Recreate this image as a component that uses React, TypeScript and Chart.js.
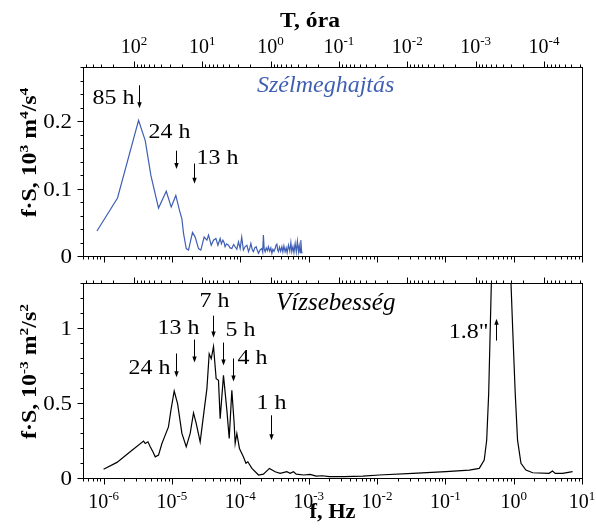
import React, { useEffect, useRef } from 'react';
import { Chart, registerables } from 'chart.js';

Chart.register(...registerables);

// ---------- data ----------
const F_MIN = 5e-7;
const F_MAX = 10;
const F_DECADES = [-6, -5, -4, -3, -2, -1, 0, 1];
const T_DECADES = [2, 1, 0, -1, -2, -3, -4];

const WIND_Y_MAX = 0.28;
const WIND_Y_STEP = 0.02;
const WIND_Y_TICKS = [0, 0.1, 0.2];
const WIND_Y_LABELS = ['0', '0.1', '0.2'];

const WATER_Y_MAX = 1.3;
const WATER_Y_STEP = 0.1;
const WATER_Y_TICKS = [0, 0.5, 1];
const WATER_Y_LABELS = ['0', '0.5', '1'];

const WIND_FREQ = [
  8.0e-7, 1.6e-6, 3.25e-6, 4.07e-6, 4.93e-6, 6.37e-6, 8.26e-6, 9.77e-6, 1.14e-5, 1.29e-5,
  1.4e-5, 1.48e-5, 1.62e-5, 1.75e-5, 2.0e-5, 2.19e-5, 2.45e-5, 2.65e-5, 2.96e-5, 3.25e-5,
  3.43e-5, 3.76e-5, 4.06e-5, 4.4e-5, 4.71e-5, 5.08e-5, 5.3e-5, 5.57e-5, 5.8e-5, 6.0e-5,
  6.3e-5, 6.73e-5, 7.1e-5, 7.53e-5, 8.0e-5, 8.41e-5, 8.9e-5, 9.42e-5, 9.97e-5, 1.05e-4,
  1.11e-4, 1.18e-4, 1.25e-4, 1.32e-4, 1.38e-4, 1.43e-4, 1.5e-4, 1.56e-4, 1.63e-4, 1.71e-4,
  1.78e-4, 1.85e-4, 1.95e-4, 2.07e-4, 2.13e-4, 2.18e-4, 2.24e-4, 2.31e-4, 2.4e-4, 2.5e-4,
  2.58e-4, 2.7e-4, 2.8e-4, 2.9e-4, 3.0e-4, 3.12e-4, 3.24e-4, 3.34e-4, 3.43e-4, 3.52e-4,
  3.62e-4, 3.75e-4, 3.9e-4, 4.06e-4, 4.2e-4, 4.35e-4, 4.53e-4, 4.7e-4, 4.85e-4, 5.07e-4,
  5.3e-4, 5.5e-4, 5.67e-4, 5.9e-4, 6.1e-4, 6.35e-4, 6.6e-4, 6.85e-4, 7.1e-4, 7.3e-4,
  7.5e-4, 7.69e-4, 7.9e-4, 8.1e-4,
];
const WIND_FS = [
  0.037, 0.086, 0.201, 0.171, 0.119, 0.071, 0.096, 0.0725, 0.0897, 0.0676,
  0.055, 0.033, 0.011, 0.0088, 0.035, 0.028, 0.011, 0.0088, 0.028, 0.0235,
  0.031, 0.016, 0.0235, 0.026, 0.016, 0.026, 0.018, 0.0235, 0.02, 0.0137,
  0.018, 0.016, 0.012, 0.011, 0.017, 0.0137, 0.01, 0.021, 0.011, 0.028,
  0.0088, 0.014, 0.016, 0.0063, 0.012, 0.0187, 0.009, 0.0063, 0.012, 0.0137,
  0.008, 0.004, 0.009, 0.011, 0.006, 0.031, 0.01, 0.0063, 0.012, 0.008,
  0.0137, 0.007, 0.012, 0.004, 0.01, 0.007, 0.011, 0.016, 0.0187, 0.009,
  0.0063, 0.013, 0.007, 0.0137, 0.006, 0.015, 0.0063, 0.012, 0.005, 0.016,
  0.007, 0.02, 0.0063, 0.014, 0.005, 0.0187, 0.006, 0.022, 0.0063, 0.015,
  0.005, 0.0235, 0.006, 0.004,
];

const WATER_FREQ = [
  1.0e-6, 1.57e-6, 2.45e-6, 3.85e-6, 4.07e-6, 4.46e-6, 4.82e-6, 5.27e-6, 5.7e-6, 6.37e-6,
  7.14e-6, 7.98e-6, 8.9e-6, 9.66e-6, 1.08e-5, 1.21e-5, 1.4e-5, 1.62e-5, 1.85e-5, 2.07e-5,
  2.27e-5, 2.59e-5, 2.96e-5, 3.25e-5, 3.51e-5, 3.76e-5, 4.06e-5, 4.44e-5, 4.8e-5, 5.08e-5,
  5.68e-5, 6.37e-5, 6.89e-5, 7.53e-5, 8.14e-5, 8.42e-5, 8.91e-5, 9.73e-5, 1.11e-4, 1.21e-4,
  1.29e-4, 1.48e-4, 1.85e-4, 2.18e-4, 2.67e-4, 3.24e-4, 3.83e-4, 4.8e-4, 5.37e-4, 6.0e-4,
  6.6e-4, 8.5e-4, 1.05e-3, 1.29e-3, 1.6e-3, 2.0e-3, 2.52e-3, 3.3e-3, 4.5e-3, 6.2e-3,
  1.08e-2, 3.33e-2, 0.102, 0.224, 0.314, 0.371, 0.403, 0.431, 0.455, 0.471,
  0.52, 0.68, 0.85, 0.914, 0.966, 1.055, 1.14, 1.28, 1.51, 1.9,
  3.3, 3.7, 4.06, 5.2, 7.28,
];
const WATER_FS = [
  0.058, 0.104, 0.175, 0.246, 0.23, 0.241, 0.208, 0.175, 0.141, 0.153,
  0.23, 0.286, 0.341, 0.451, 0.58, 0.496, 0.297, 0.208, 0.297, 0.434,
  0.363, 0.241, 0.451, 0.596, 0.828, 0.795, 0.876, 0.662, 0.651, 0.396,
  0.684, 0.451, 0.264, 0.584, 0.363, 0.23, 0.297, 0.197, 0.141, 0.098,
  0.108, 0.064, 0.02, 0.026, 0.064, 0.042, 0.031, 0.042, 0.031, 0.042,
  0.026, 0.02, 0.024, 0.012, 0.015, 0.009, 0.01, 0.009, 0.011, 0.013,
  0.02, 0.031, 0.042, 0.053, 0.064, 0.12, 0.252, 0.562, 1.005, 1.29,
  2.4, 3.4, 2.0, 1.3, 1.005, 0.562, 0.252, 0.098, 0.053, 0.035,
  0.031, 0.046, 0.031, 0.031, 0.042,
];

const WIND_MARK_LABELS = ['85 h', '24 h', '13 h'];
const WIND_MARK_FREQ = [3.27e-6, 1.157e-5, 2.137e-5];
const WATER_MARK_LABELS = ['24 h', '13 h', '7 h', '5 h', '4 h', '1 h', '1.8"'];
const WATER_MARK_FREQ = [1.157e-5, 2.137e-5, 3.97e-5, 5.56e-5, 7.8e-5, 2.78e-4, 0.556];

// ---------- styling / placement ----------
const SERIF = '"Liberation Serif", "Times New Roman", Times, serif';
const BLUE = '#3f5fb4';

type Seg = [string, boolean];
type Align = 'left' | 'right' | 'center';
type Mark = { yFrom: number; yTo: number; textY: number; align: Align; dx: number };

const WIND_MARK_PLACE: Mark[] = [
  { yFrom: 0.253, yTo: 0.219, textY: 0.225, align: 'right', dx: -5 },
  { yFrom: 0.156, yTo: 0.129, textY: 0.175, align: 'left', dx: -28 },
  { yFrom: 0.137, yTo: 0.107, textY: 0.136, align: 'left', dx: 2 },
];
const WATER_MARK_PLACE: Mark[] = [
  { yFrom: 0.83, yTo: 0.671, textY: 0.695, align: 'right', dx: -6 },
  { yFrom: 0.923, yTo: 0.77, textY: 0.961, align: 'center', dx: -16 },
  { yFrom: 1.082, yTo: 0.936, textY: 1.137, align: 'center', dx: 1 },
  { yFrom: 0.903, yTo: 0.75, textY: 0.95, align: 'left', dx: 2 },
  { yFrom: 0.797, yTo: 0.644, textY: 0.762, align: 'left', dx: 4 },
  { yFrom: 0.418, yTo: 0.252, textY: 0.463, align: 'center', dx: 0 },
  { yFrom: 0.916, yTo: 1.062, textY: 0.935, align: 'right', dx: -8 },
];

function drawRich(
  ctx: CanvasRenderingContext2D, segs: Seg[], x: number, y: number,
  size: number, weight: string, align: Align, sx = 1,
) {
  const supSize = Math.round(size * 0.66);
  const font = (s: number) => `${weight} ${s}px ${SERIF}`;
  let total = 0;
  const widths = segs.map(([t, sup]) => {
    ctx.font = font(sup ? supSize : size);
    const w = ctx.measureText(t).width;
    total += w;
    return w;
  });
  ctx.save();
  ctx.translate(x, y);
  ctx.scale(sx, 1);
  let cx = align === 'center' ? -total / 2 : align === 'right' ? -total : 0;
  ctx.textAlign = 'left';
  ctx.textBaseline = 'alphabetic';
  segs.forEach(([t, sup], i) => {
    ctx.font = font(sup ? supSize : size);
    ctx.fillText(t, cx, sup ? -size * 0.42 : 0);
    cx += widths[i];
  });
  ctx.restore();
}

function line(ctx: CanvasRenderingContext2D, x1: number, y1: number, x2: number, y2: number) {
  ctx.beginPath();
  ctx.moveTo(x1, y1);
  ctx.lineTo(x2, y2);
  ctx.stroke();
}

type PanelCfg = {
  yMax: number;
  yStep: number;
  yTicks: number[];
  yLabels: string[];
  topLabels: boolean;
  bottomLabels: boolean;
  yTitle: Seg[];
  title: string;
  titleColor: string;
  titleSize: number;
  titleDx: number;
  titleDy: number;
  markLabels: string[];
  markFreq: number[];
  markPlace: Mark[];
};

function makePlugin(cfg: PanelCfg) {
  return {
    id: 'panelDecor',
    afterDraw(chart: any) {
      const ctx: CanvasRenderingContext2D = chart.ctx;
      const xs = chart.scales.x;
      const ys = chart.scales.y;
      const { left, right, top, bottom } = chart.chartArea;
      ctx.save();
      ctx.strokeStyle = '#000';
      ctx.fillStyle = '#000';
      ctx.lineWidth = 1;
      const L = Math.round(left) + 0.5;
      const R = Math.round(right) + 0.5;
      const T = Math.round(top) + 0.5;
      const B = Math.round(bottom) + 0.5;
      ctx.strokeRect(L, T, R - L, B - T);

      // bottom f ticks
      for (let e = -7; e <= 1; e++) {
        for (let m = 1; m <= 9; m++) {
          const f = m * Math.pow(10, e);
          if (f < F_MIN * 0.999 || f > F_MAX * 1.001) continue;
          const px = Math.round(xs.getPixelForValue(f)) + 0.5;
          line(ctx, px, B, px, B + (m === 1 ? 6 : 3));
        }
      }
      // top T ticks (hours)
      for (let e = -5; e <= 3; e++) {
        for (let m = 1; m <= 9; m++) {
          const tH = m * Math.pow(10, e);
          const f = 1 / (3600 * tH);
          if (f < F_MIN * 0.999 || f > F_MAX * 1.001) continue;
          const px = Math.round(xs.getPixelForValue(f)) + 0.5;
          line(ctx, px, T, px, T - (m === 1 ? 6 : 3));
        }
      }
      // y ticks
      const n = Math.round(cfg.yMax / cfg.yStep);
      for (let i = 0; i <= n; i++) {
        const v = i * cfg.yStep;
        const major = cfg.yTicks.some((t) => Math.abs(t - v) < 1e-9);
        const py = Math.round(ys.getPixelForValue(v)) + 0.5;
        line(ctx, L - (major ? 6 : 3), py, L, py);
      }
      // y labels
      cfg.yTicks.forEach((v, i) => {
        drawRich(ctx, [[cfg.yLabels[i], false]], left - 11, ys.getPixelForValue(v) + 7, 20, 'normal', 'right', 1.15);
      });

      if (cfg.topLabels) {
        T_DECADES.forEach((e) => {
          const f = 1 / (3600 * Math.pow(10, e));
          const px = xs.getPixelForValue(f);
          drawRich(ctx, [['10', false], [String(e), true]], px, top - 14, 20, 'normal', 'center');
        });
        drawRich(ctx, [['T, óra', false]], 310, 27, 20, 'bold', 'center', 1.18);
      }
      if (cfg.bottomLabels) {
        F_DECADES.forEach((e) => {
          const px = xs.getPixelForValue(Math.pow(10, e));
          drawRich(ctx, [['10', false], [String(e), true]], px, bottom + 30, 20, 'normal', 'center');
        });
        drawRich(ctx, [['f, Hz', false]], (left + right) / 2, bottom + 40, 20, 'bold', 'center', 1.12);
      }

      // y title (rotated)
      ctx.save();
      ctx.translate(36, (top + bottom) / 2 - 9);
      ctx.rotate(-Math.PI / 2);
      drawRich(ctx, cfg.yTitle, 0, 0, 20, 'bold', 'center', 1.19);
      ctx.restore();

      // panel title
      ctx.fillStyle = cfg.titleColor;
      ctx.font = `italic ${cfg.titleSize}px ${SERIF}`;
      ctx.textAlign = 'left';
      ctx.textBaseline = 'alphabetic';
      ctx.fillText(cfg.title, left + cfg.titleDx, top + cfg.titleDy);

      // period marks
      ctx.fillStyle = '#000';
      ctx.strokeStyle = '#000';
      cfg.markLabels.forEach((lab, i) => {
        const p = cfg.markPlace[i];
        const ax = Math.round(xs.getPixelForValue(cfg.markFreq[i])) + 0.5;
        const y1 = ys.getPixelForValue(p.yFrom);
        const y2 = ys.getPixelForValue(p.yTo);
        const dir = y2 > y1 ? 1 : -1;
        line(ctx, ax, y1, ax, y2 - dir * 4);
        ctx.beginPath();
        ctx.moveTo(ax, y2);
        ctx.lineTo(ax - 2.2, y2 - dir * 6);
        ctx.lineTo(ax + 2.2, y2 - dir * 6);
        ctx.closePath();
        ctx.fill();
        drawRich(ctx, [[lab, false]], ax + p.dx, ys.getPixelForValue(p.textY), 21, 'normal', p.align, 1.14);
      });
      ctx.restore();
    },
  };
}

function buildChart(
  canvas: HTMLCanvasElement, freq: number[], vals: number[], color: string,
  yMax: number, padding: any, cfg: PanelCfg,
) {
  return new Chart(canvas, {
    type: 'line',
    data: {
      datasets: [
        {
          data: freq.map((f, i) => ({ x: f, y: vals[i] })),
          borderColor: color,
          borderWidth: 1.2,
          pointRadius: 0,
          tension: 0,
          fill: false,
        },
      ],
    },
    options: {
      responsive: false,
      animation: false,
      devicePixelRatio: 1,
      layout: { padding },
      scales: {
        x: { type: 'logarithmic', min: F_MIN, max: F_MAX, display: false },
        y: { type: 'linear', min: 0, max: yMax, display: false },
      },
      plugins: { legend: { display: false }, tooltip: { enabled: false } },
    } as any,
    plugins: [makePlugin(cfg)],
  });
}

export default function App() {
  const topRef = useRef<HTMLCanvasElement>(null);
  const botRef = useRef<HTMLCanvasElement>(null);

  useEffect(() => {
    const c1 = buildChart(topRef.current!, WIND_FREQ, WIND_FS, BLUE, WIND_Y_MAX, { left: 83, right: 14, top: 67, bottom: 12 }, {
      yMax: WIND_Y_MAX,
      yStep: WIND_Y_STEP,
      yTicks: WIND_Y_TICKS,
      yLabels: WIND_Y_LABELS,
      topLabels: true,
      bottomLabels: false,
      yTitle: [['f·S, 10', false], ['3', true], [' m', false], ['4', true], ['/s', false], ['4', true]],
      title: 'Szélmeghajtás',
      titleColor: BLUE,
      titleSize: 24,
      titleDx: 174,
      titleDy: 25,
      markLabels: WIND_MARK_LABELS,
      markFreq: WIND_MARK_FREQ,
      markPlace: WIND_MARK_PLACE,
    });
    const c2 = buildChart(botRef.current!, WATER_FREQ, WATER_FS, '#000', WATER_Y_MAX, { left: 83, right: 14, top: 15, bottom: 51 }, {
      yMax: WATER_Y_MAX,
      yStep: WATER_Y_STEP,
      yTicks: WATER_Y_TICKS,
      yLabels: WATER_Y_LABELS,
      topLabels: false,
      bottomLabels: true,
      yTitle: [['f·S, 10', false], ['-3', true], [' m', false], ['2', true], ['/s', false], ['2', true]],
      title: 'Vízsebesség',
      titleColor: '#000',
      titleSize: 25,
      titleDx: 193,
      titleDy: 27,
      markLabels: WATER_MARK_LABELS,
      markFreq: WATER_MARK_FREQ,
      markPlace: WATER_MARK_PLACE,
    });
    return () => {
      c1.destroy();
      c2.destroy();
    };
  }, []);

  return (
    <div style={{ position: 'absolute', left: 0, top: 0, width: 596, height: 529, background: '#fff' }}>
      <canvas ref={topRef} width={596} height={268} style={{ position: 'absolute', left: 0, top: 0, display: 'block' }} />
      <canvas ref={botRef} width={596} height={261} style={{ position: 'absolute', left: 0, top: 268, display: 'block' }} />
    </div>
  );
}
